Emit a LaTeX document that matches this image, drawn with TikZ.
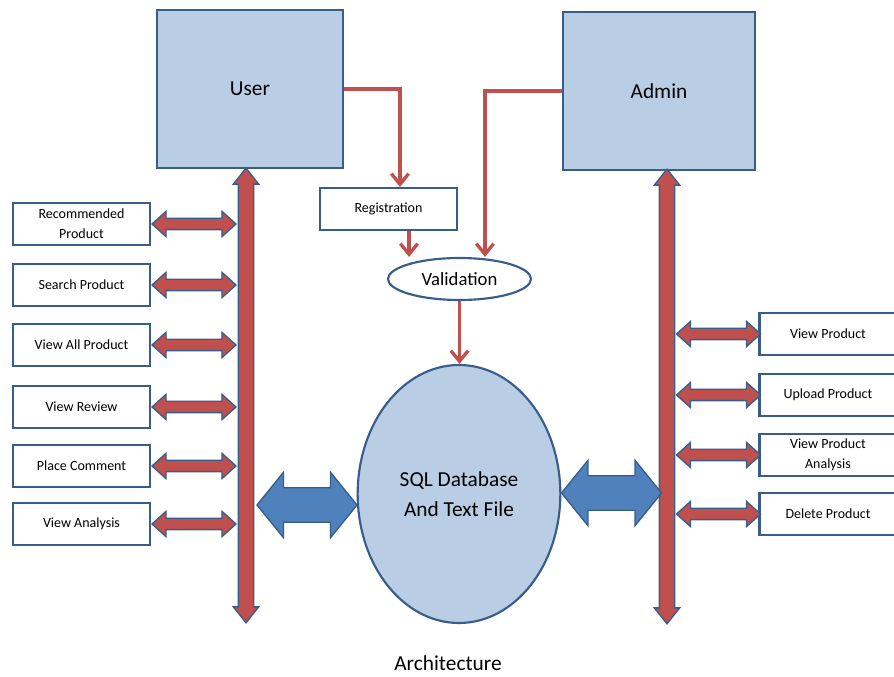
\documentclass[tikz,border=0pt]{standalone}
\usepackage{fontspec}
\setmainfont{Carlito}
\usetikzlibrary{arrows.meta, positioning, shapes.geometric, shapes.arrows}

\definecolor{boxfill}{HTML}{B9CDE5}
\definecolor{boxline}{HTML}{385D8A}
\definecolor{redline}{HTML}{C0504D}
\definecolor{bluefill}{HTML}{4F81BD}

\begin{document}
\begin{tikzpicture}[
    x=0.75pt, y=-0.75pt,
    actor/.style={draw=boxline, fill=boxfill, line width=1.6pt, font=\fontsize{16}{19}\selectfont},
    item/.style={draw=boxline, fill=white, line width=1.6pt, minimum width=102.75pt, minimum height=31.5pt,
                 inner sep=1pt, align=center, font=\fontsize{10.5}{15}\selectfont},
    conn/.style={-{Straight Barb[length=8pt, width=13pt]}, line width=2.5pt, redline},
    bar/.style={double arrow, draw=boxline, fill=redline, line width=1pt, rotate=90,
                inner xsep=0pt, inner ysep=5.25pt, double arrow head extend=3.75pt,
                double arrow tip angle=77, minimum height=341pt},
    smallarr/.style={double arrow, draw=boxline, fill=redline, line width=1pt,
                     inner xsep=0pt, inner ysep=3.75pt, double arrow head extend=5.25pt,
                     double arrow tip angle=84, minimum height=63pt},
    bigarr/.style={double arrow, draw=boxline, fill=bluefill, line width=1pt,
                   inner xsep=0pt, inner ysep=12.4pt, double arrow head extend=11.6pt,
                   double arrow tip angle=102, minimum height=75pt}
]
\useasboundingbox (0,0) rectangle (894,677);
\clip (0,0) rectangle (894,677);

% actors and store
\node[actor, minimum width=139.5pt, minimum height=118.5pt] (user)  at (250,89) {User};
\node[actor, minimum width=144pt, minimum height=118.5pt]   (admin) at (659,91) {Admin};
\node[item, font=\fontsize{10.5}{13}\selectfont] (reg) at (388.5,209) {Registration};
\node[ellipse, draw=boxline, fill=white, line width=1.6pt, minimum width=107.25pt, minimum height=31.5pt,
      inner sep=0pt, font=\fontsize{14}{17}\selectfont] (val) at (459.5,279) {Validation};
\node[ellipse, draw=boxline, fill=boxfill, line width=1.6pt, minimum width=152pt, minimum height=193.5pt,
      align=center, font=\fontsize{16}{22.5}\selectfont] (sql) at (459,494) {SQL Database\\And Text File};

% main bars
\node[bar] (lbar) at (246,395.5) {};
\node[bar] (rbar) at (667,396.5) {};
\node[bigarr] (lbig) at (307,505) {};
\node[bigarr] (rbig) at (611.5,493) {};

% user side
\foreach \n/\y/\t in {rec/224/{Recommended\\Product}, srch/285/{Search Product},
                      all/345/{View All Product}, rev/407/{View Review},
                      cmt/466/{Place Comment}, ana/524/{View Analysis}}{
   \node[item] (\n) at (81.5,\y) {\t};
   \node[smallarr] (\n-a) at (194,\y) {};
}

% admin side
\foreach \n/\y/\t in {vprod/334/{View Product}, upl/395/{Upload Product},
                      vpa/455/{View Product\\Analysis}, del/514/{Delete Product}}{
   \node[item] (\n) at (828,\y) {\t};
   \node[smallarr] (\n-a) at (718.5,\y) {};
}

% flow
\coordinate (rv) at ([xshift=15.4pt]reg.south);
\draw[conn] (user.east) -| ([xshift=8.6pt]reg.north);
\draw[conn] (admin.west) -| ([xshift=19.1pt]val.north);
\draw[conn] (rv) -- (rv |- val.north);
\draw[conn] (val.south) -- (val.south |- sql.north);

\node[font=\fontsize{16}{19}\selectfont] (arch) at (448,663) {Architecture};
\end{tikzpicture}
\end{document}
